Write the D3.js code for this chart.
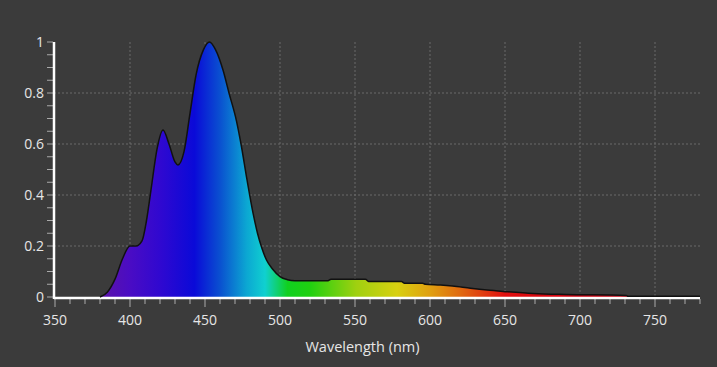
<!DOCTYPE html>
<html>
<head>
<meta charset="utf-8">
<script src="https://cdn.jsdelivr.net/npm/d3@7"></script>
<style>
  body { margin: 0; background: #3b3b3b; }
  svg { display: block; }
  text { font-family: "Open Sans", "Noto Sans", sans-serif; fill: #e6e6e6; }
</style>
</head>
<body>
<div id="my_dataviz"></div>
<script>
// spectrum values
var wavelength = [380, 385, 390, 395, 400, 404, 408, 411, 414, 418, 422, 426, 430, 432, 436, 440, 444, 449, 453, 457, 462, 466, 471, 474, 478, 482, 485, 488, 491, 495, 500, 505, 510, 532, 534, 557, 559, 581, 583, 595, 597, 607, 615, 627, 638, 651, 669, 691, 731, 732, 780];
var intensity  = [0.0, 0.02, 0.07, 0.15, 0.2, 0.2, 0.22, 0.3, 0.42, 0.58, 0.655, 0.6, 0.53, 0.518, 0.57, 0.72, 0.87, 0.97, 1.0, 0.97, 0.89, 0.8, 0.69, 0.6, 0.46, 0.33, 0.25, 0.19, 0.145, 0.11, 0.08, 0.068, 0.064, 0.064, 0.07, 0.07, 0.061, 0.061, 0.054, 0.054, 0.05, 0.047, 0.043, 0.034, 0.027, 0.021, 0.014, 0.01, 0.006, 0.003, 0.003];

var xTicks = [350, 400, 450, 500, 550, 600, 650, 700, 750];
var yTicks = [0, 0.2, 0.4, 0.6, 0.8, 1];

// colour of the fill along the wavelength
var stopNm    = [380, 400, 420, 443, 460, 478, 490, 505, 520, 551, 578, 600, 620, 650, 700, 731];
var stopColor = ["#5c14a8", "#4a0cc4", "#3008d0", "#0a0ad8", "#0a50d0", "#0ca8d2", "#10d0d0", "#10d020", "#20d010", "#a0d010", "#d8d010", "#e0a010", "#e06a10", "#e01010", "#d00010", "#c00010"];

var margin = {top: 42, right: 17, bottom: 70, left: 54},
    width = 717 - margin.left - margin.right,
    height = 367 - margin.top - margin.bottom;

var svg = d3.select("#my_dataviz")
  .append("svg")
  .attr("width", 717)
  .attr("height", 367)
  .append("g")
  .attr("transform", "translate(" + margin.left + "," + margin.top + ")");

var x = d3.scaleLinear().domain([350, 780]).range([1, 646]);
var y = d3.scaleLinear().domain([0, 1]).range([255, 0]);

var data = wavelength.map(function(w, i) { return {w: w, v: intensity[i]}; });

// grid
svg.append("g").selectAll("line")
  .data(xTicks.slice(1))
  .enter().append("line")
    .attr("x1", function(d) { return x(d); })
    .attr("x2", function(d) { return x(d); })
    .attr("y1", 0).attr("y2", 255)
    .style("stroke", "#6a6a6a").style("stroke-dasharray", "2,2");

svg.append("g").selectAll("line")
  .data([0.2, 0.4, 0.6, 0.8])
  .enter().append("line")
    .attr("x1", 0).attr("x2", 646)
    .attr("y1", function(d) { return y(d); })
    .attr("y2", function(d) { return y(d); })
    .style("stroke", "#6a6a6a").style("stroke-dasharray", "2,2");

// gradient
var grad = svg.append("defs").append("linearGradient")
  .attr("id", "spec")
  .attr("gradientUnits", "userSpaceOnUse")
  .attr("x1", x(380)).attr("x2", x(731))
  .attr("y1", 0).attr("y2", 0);
grad.selectAll("stop")
  .data(stopNm)
  .enter().append("stop")
    .attr("offset", function(d) { return (d - 380) / (731 - 380); })
    .attr("stop-color", function(d, i) { return stopColor[i]; });

var area = d3.area()
  .x(function(d) { return x(d.w); })
  .y0(y(0))
  .y1(function(d) { return y(d.v); })
  .curve(d3.curveMonotoneX);

var line = d3.line()
  .x(function(d) { return x(d.w); })
  .y(function(d) { return y(d.v); })
  .curve(d3.curveMonotoneX);

svg.append("path").datum(data)
  .attr("d", area)
  .style("fill", "url(#spec)");

// axes
var xAxis = svg.append("g")
  .attr("transform", "translate(0," + 256 + ")");
xAxis.selectAll("line.minor")
  .data(d3.range(350, 781, 10))
  .enter().append("line")
    .attr("x1", function(d) { return x(d); })
    .attr("x2", function(d) { return x(d); })
    .attr("y1", 1)
    .attr("y2", function(d) { return d % 50 === 0 ? 9 : 6; })
    .style("stroke", "#aaaaaa");
xAxis.append("line")
  .attr("x1", 0).attr("x2", 646)
  .style("stroke", "#ffffff").style("stroke-width", 2.5);
xAxis.selectAll("text")
  .data(xTicks)
  .enter().append("text")
    .attr("x", function(d) { return x(d); })
    .attr("y", 27)
    .attr("text-anchor", "middle")
    .style("font-size", "14px")
    .text(function(d) { return d; });

var yAxis = svg.append("g");
yAxis.selectAll("line")
  .data(d3.range(0, 1.001, 0.05))
  .enter().append("line")
    .attr("x1", -7).attr("x2", -1)
    .attr("y1", function(d) { return y(d); })
    .attr("y2", function(d) { return y(d); })
    .style("stroke", "#aaaaaa");
yAxis.append("line")
  .attr("x1", 0).attr("x2", 0)
  .attr("y1", 0).attr("y2", 257)
  .style("stroke", "#ffffff").style("stroke-width", 2.5);
yAxis.selectAll("text")
  .data(yTicks)
  .enter().append("text")
    .attr("x", -10)
    .attr("y", function(d) { return y(d); })
    .attr("dy", "0.35em")
    .attr("text-anchor", "end")
    .style("font-size", "14px")
    .text(function(d) { return d3.format("~g")(d); });

svg.append("path").datum(data)
  .attr("d", line)
  .style("fill", "none")
  .style("stroke", "#111111")
  .style("stroke-width", 1.5);

svg.append("text")
  .attr("x", x(555))
  .attr("y", 310)
  .attr("text-anchor", "middle")
  .style("font-size", "14.5px")
  .text("Wavelength (nm)");
</script>
</body>
</html>
